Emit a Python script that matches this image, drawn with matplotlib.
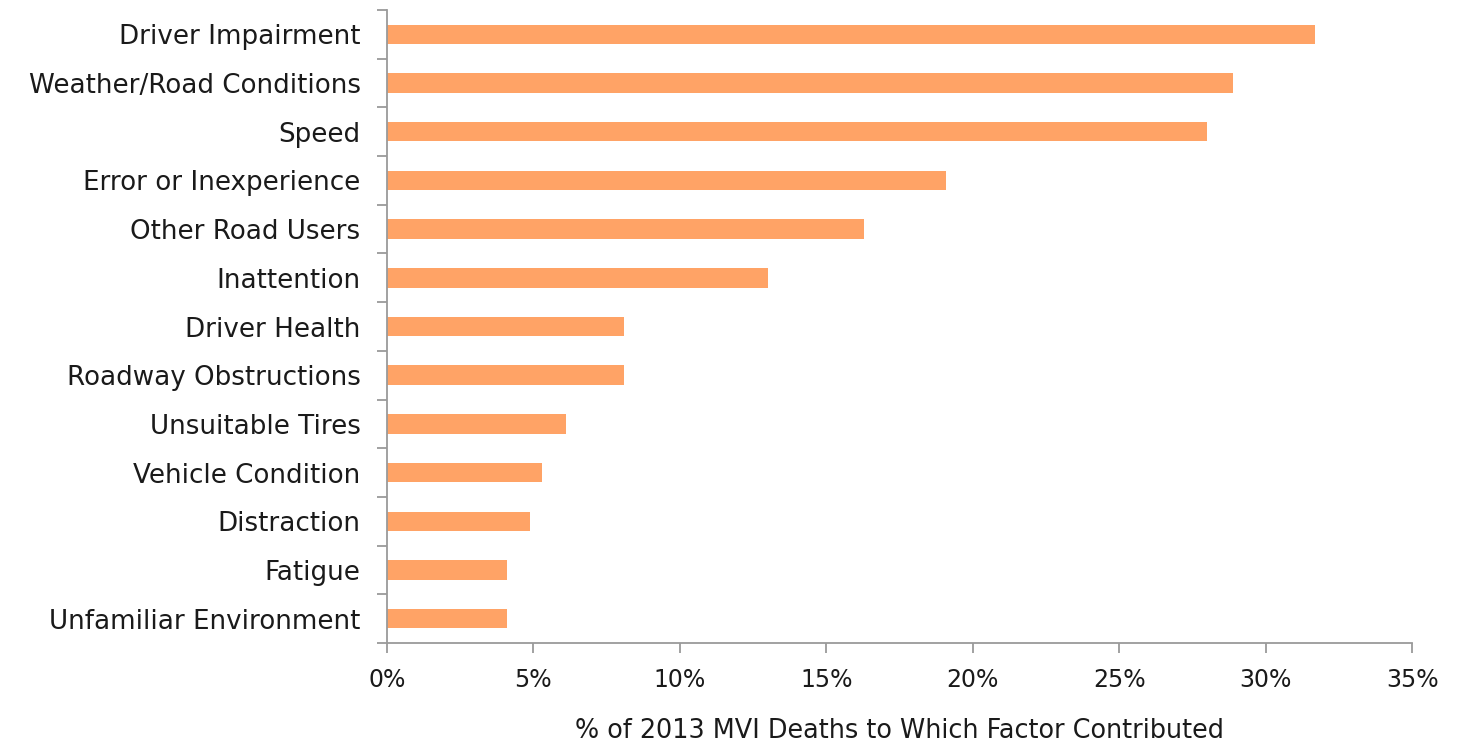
import matplotlib
matplotlib.use("Agg")
import matplotlib.pyplot as plt
import numpy as np
from matplotlib.ticker import FixedLocator, PercentFormatter

FACTORS = [
    "Driver Impairment",
    "Weather/Road Conditions",
    "Speed",
    "Error or Inexperience",
    "Other Road Users",
    "Inattention",
    "Driver Health",
    "Roadway Obstructions",
    "Unsuitable Tires",
    "Vehicle Condition",
    "Distraction",
    "Fatigue",
    "Unfamiliar Environment",
]
PERCENTS = [31.7, 28.9, 28.0, 19.1, 16.3, 13.0, 8.1, 8.1, 6.1, 5.3, 4.9, 4.1, 4.1]
X_TICKS = [0, 5, 10, 15, 20, 25, 30, 35]
X_LABEL = "% of 2013 MVI Deaths to Which Factor Contributed"

BAR_COLOR = "#FFA366"
AXIS_COLOR = "#9A9A9A"
TEXT_COLOR = "#1A1A1A"

plt.rcParams["font.family"] = ["DejaVu Sans"]

fig = plt.figure(figsize=(14.58, 7.42), dpi=100)
ax = fig.add_axes([0.2654, 0.1334, 0.7031, 0.8531])

y = np.arange(len(FACTORS))
ax.barh(y, PERCENTS, height=0.4, color=BAR_COLOR)

ax.set_ylim(len(FACTORS) - 0.5, -0.5)
ax.set_xlim(0, 35)

ax.set_yticks(y)
ax.set_yticklabels(FACTORS, fontsize=18.8, color=TEXT_COLOR)
ax.tick_params(axis="y", which="major", length=0, pad=19)
ax.yaxis.set_minor_locator(FixedLocator(np.arange(-0.5, len(FACTORS), 1.0)))
ax.tick_params(axis="y", which="minor", length=7, width=1.3, color=AXIS_COLOR)

ax.set_xticks(X_TICKS)
ax.xaxis.set_major_formatter(PercentFormatter(decimals=0))
ax.tick_params(axis="x", length=7, width=1.3, color=AXIS_COLOR,
               labelsize=17, labelcolor=TEXT_COLOR, pad=11)
ax.set_xlabel(X_LABEL, fontsize=18.4, color=TEXT_COLOR, labelpad=19)

for side in ("top", "right"):
    ax.spines[side].set_visible(False)
for side in ("left", "bottom"):
    ax.spines[side].set_color(AXIS_COLOR)
    ax.spines[side].set_linewidth(1.3)

fig.savefig("out.png", dpi=100)
